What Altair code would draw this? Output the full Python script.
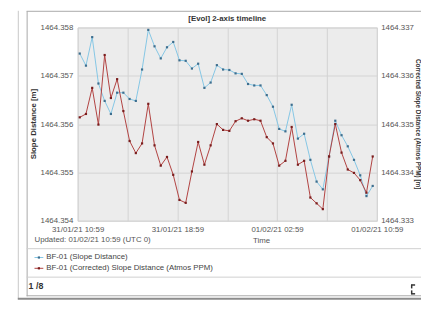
import json
import altair as alt
import pandas as pd

FONT = "Liberation Sans"

title_text = "[Evol] 2-axis timeline"
series_names = ["BF-01 (Slope Distance)", "BF-01 (Corrected) Slope Distance (Atmos PPM)"]
left_axis_title = "Slope Distance [m]"
right_axis_title = "Corrected Slope Distance (Atmos PPM) [m]"
x_axis_title = "Time"
updated_text = "Updated: 01/02/21 10:59 (UTC 0)"
page_text = "1 /8"

# x axis: hours after 31/01/21 10:59, ticks every 4 h, labels every 8 h
x_tick_values = [0, 4, 8, 12, 16, 20, 24]
x_tick_labels = ["31/01/21 10:59", "31/01/21 18:59", "01/02/21 02:59", "01/02/21 10:59"]

# left axis (Slope Distance) and right axis (Corrected)
left_grid_values = [1464.354, 1464.3545, 1464.355, 1464.3555, 1464.356,
                    1464.3565, 1464.357, 1464.3575, 1464.358]
right_tick_values = [1464.333, 1464.334, 1464.335, 1464.336, 1464.337]

# samples every 30 min, first at 11:09
time_hours = [10 / 60 + 0.5 * i for i in range(48)]

slope_distance = [
    1464.35746, 1464.35721, 1464.35780, 1464.35684, 1464.35648, 1464.35621,
    1464.35665, 1464.35665, 1464.35652, 1464.35648, 1464.35713, 1464.35795,
    1464.35761, 1464.35736, 1464.35759, 1464.35770, 1464.35732, 1464.35731,
    1464.35715, 1464.35725, 1464.35675, 1464.35686, 1464.35722, 1464.35713,
    1464.35712, 1464.35705, 1464.35704, 1464.35683, 1464.35680, 1464.35680,
    1464.35660, 1464.35636, 1464.35590, 1464.35585, 1464.35640, 1464.35570,
    1464.35580, 1464.35526, 1464.35481, 1464.35465, 1464.35533, 1464.35607,
    1464.35577, 1464.35554, 1464.35526, 1464.35494, 1464.35451, 1464.35472,
]
corrected_distance = [
    1464.33514, 1464.33521, 1464.33575, 1464.33499, 1464.33643, 1464.33554,
    1464.33593, 1464.33527, 1464.33465, 1464.33440, 1464.33460, 1464.33542,
    1464.33456, 1464.33414, 1464.33432, 1464.33395, 1464.33343, 1464.33337,
    1464.33402, 1464.33463, 1464.33416, 1464.33456, 1464.33500, 1464.33488,
    1464.33486, 1464.33506, 1464.33512, 1464.33507, 1464.33510, 1464.33507,
    1464.33473, 1464.33460, 1464.33414, 1464.33424, 1464.33494, 1464.33416,
    1464.33424, 1464.33348, 1464.33336, 1464.33324, 1464.33433, 1464.33500,
    1464.33441, 1464.33406, 1464.33399, 1464.33384, 1464.33358, 1464.33433,
]

BLUE = "#84c6e4"
BLUE_DOT = "#3d6e8e"
RED = "#b0403f"
RED_DOT = "#7a1d1d"
GRID = "#d3d3d3"
LABEL = "#555555"

df = pd.DataFrame({"t": time_hours, "sd": slope_distance, "csd": corrected_distance})
one = pd.DataFrame({"k": [0]})

W, H = 305, 197

x_enc = alt.X(
    "t:Q",
    scale=alt.Scale(domain=[0, 24], nice=False, zero=False),
    axis=alt.Axis(
        values=x_tick_values,
        labelExpr=f"datum.value % 8 == 0 ? {json.dumps(x_tick_labels)}[datum.value / 8] : ''",
        title=None, grid=True, gridColor=GRID, ticks=False, domain=False,
        labelFlush=False, labelOverlap=False, labelBound=False, labelPadding=5,
        labelFontSize=8, labelColor=LABEL, labelFont=FONT,
    ),
)

left_axis = alt.Axis(
    orient="left", values=left_grid_values,
    labelExpr="abs(datum.value*1000 - round(datum.value*1000)) < 0.01 ? format(datum.value, '.3f') : ''",
    grid=True, gridColor=GRID, ticks=False, domain=False, labelPadding=5,
    labelFontSize=8, labelColor=LABEL, labelFont=FONT, labelOverlap=False,
    title=left_axis_title, titleAngle=270, titleX=-45, titleY=98,
    titleAlign="center", titleBaseline="middle", titleFontSize=8,
    titleFontWeight="bold", titleColor="#333333", titleFont=FONT,
)
right_axis = alt.Axis(
    orient="right", values=right_tick_values, format=".3f",
    grid=False, ticks=False, domain=False, labelPadding=4,
    labelFontSize=8, labelColor=LABEL, labelFont=FONT, labelOverlap=False,
    title=right_axis_title, titleAngle=90, titleX=41.5, titleY=98,
    titleAlign="center", titleBaseline="middle", titleFontSize=6.5,
    titleFontWeight="bold", titleColor="#333333", titleFont=FONT,
)

base = alt.Chart(df)
y_left = alt.Y("sd:Q", scale=alt.Scale(domain=[1464.354, 1464.358], nice=False, zero=False), axis=left_axis)
y_right = alt.Y("csd:Q", scale=alt.Scale(domain=[1464.333, 1464.337], nice=False, zero=False), axis=right_axis)

blue = alt.layer(
    base.mark_line(color=BLUE, strokeWidth=1).encode(x=x_enc, y=y_left),
    base.mark_square(color=BLUE_DOT, size=5, opacity=1).encode(x="t:Q", y="sd:Q"),
)
red = alt.layer(
    base.mark_line(color=RED, strokeWidth=1).encode(x="t:Q", y=y_right),
    base.mark_square(color=RED_DOT, size=5, opacity=1).encode(x="t:Q", y="csd:Q"),
)


def text(txt, x, y, size=8, weight="normal", color=LABEL, align="left"):
    return alt.Chart(one).mark_text(
        text=txt, fontSize=size, fontWeight=weight, color=color, align=align,
        baseline="middle", font=FONT,
    ).encode(x=alt.value(x), y=alt.value(y))


def hline(x1, x2, y, color, width=1):
    return alt.Chart(one).mark_rule(color=color, strokeWidth=width).encode(
        x=alt.value(x1), x2=alt.value(x2), y=alt.value(y))


def vline(x, y1, y2, color, width=1):
    return alt.Chart(one).mark_rule(color=color, strokeWidth=width).encode(
        x=alt.value(x), y=alt.value(y1), y2=alt.value(y2))


def legend_row(name, y, line_color, dot_color):
    return [
        hline(-44, -35, y, line_color, 1),
        alt.Chart(one).mark_square(color=dot_color, size=5, opacity=1).encode(
            x=alt.value(-39.5), y=alt.value(y)),
        text(name, -32, y, color="#444444"),
    ]


decor = [
    # outer frame
    vline(-60.5, -17, 277, "#c8c8c8"),
    hline(-61, 352, 276.5, "#8c8c8c", 2),
    # inner panel
    vline(-51.5, -16.5, 274, "#a8a8a8"),
    hline(-52, 352, -16.5, "#a8a8a8"),
    hline(-52, 352, 273.5, "#a8a8a8"),
    # separators
    hline(-52, 352, 225.5, "#cfcfcf"),
    hline(-52, 352, 254.5, "#cfcfcf"),
    # texts
    text(title_text, W / 2, -9, size=8, weight="bold", color="#333333", align="center"),
    text(updated_text, -44, 217, color=LABEL),
    text(x_axis_title, 187.5, 218, color=LABEL, align="center"),
    text(page_text, -50, 264, size=9, weight="bold", color="#333333"),
    # corner icon
    vline(340.5, 262, 266, "#333333", 1.5),
    hline(340, 344, 262.5, "#333333", 1.5),
    vline(340.5, 268, 272, "#333333", 1.5),
    hline(340, 344, 271.5, "#333333", 1.5),
]
decor += legend_row(series_names[0], 234.5, BLUE, BLUE_DOT)
decor += legend_row(series_names[1], 245.5, RED, RED_DOT)

chart = alt.layer(blue, red, *decor).resolve_scale(y="independent").properties(
    width=W, height=H,
    autosize=alt.AutoSizeParams(type="none"),
    padding={"left": 71, "top": 17, "right": 45, "bottom": 80},
    background="white",
).configure_view(fill="#ececec", stroke=GRID)

chart.save("out.html", embed_options={"renderer": "svg", "actions": False})
